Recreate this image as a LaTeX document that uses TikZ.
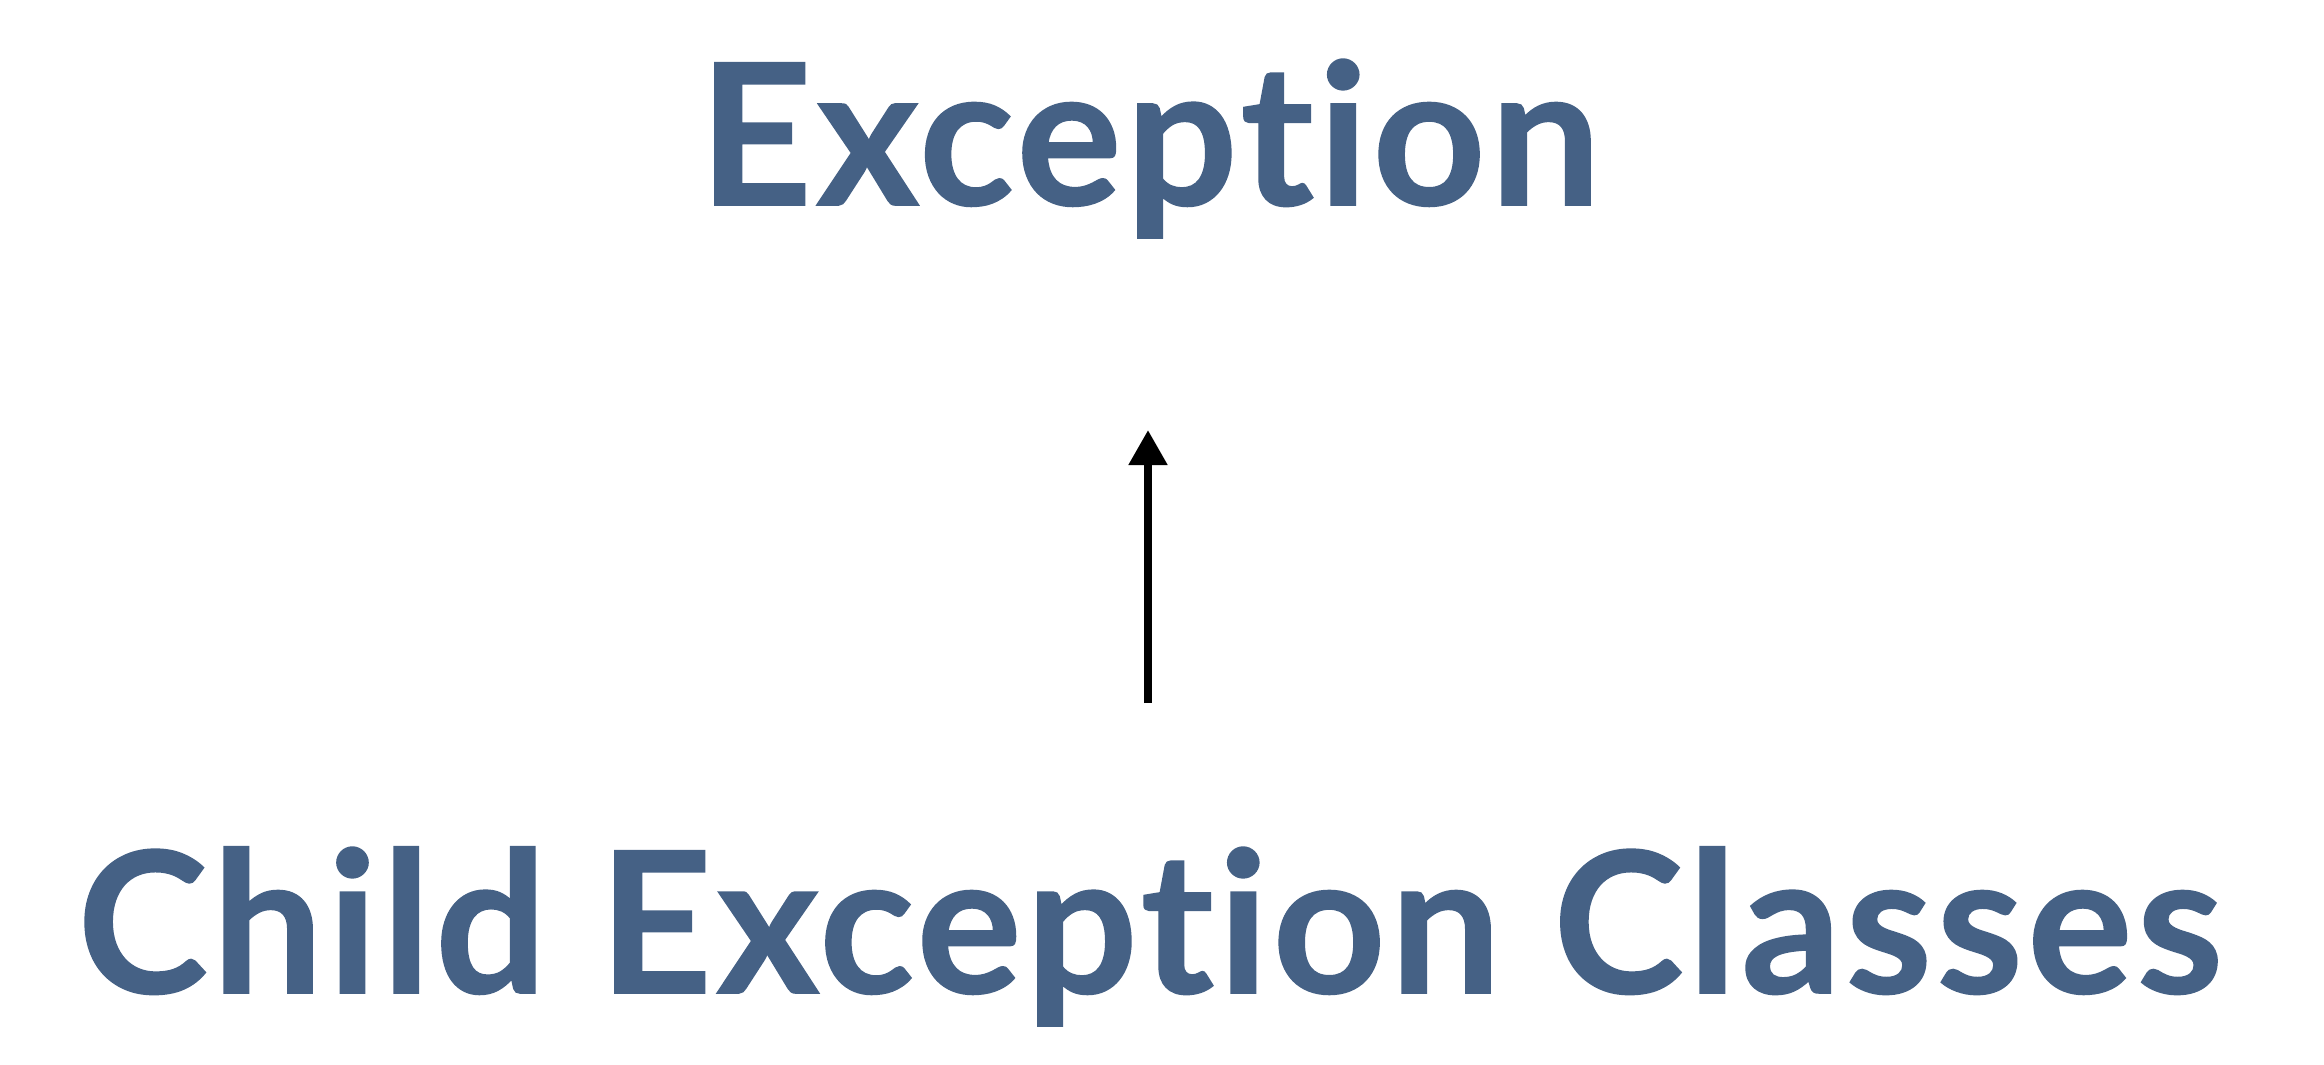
\documentclass[tikz,border=0pt]{standalone}
\usepackage{fontspec}
\setmainfont{Lato}[Ligatures={NoCommon,NoContextual},BoldFeatures={FakeBold=0.8,LetterSpace=2.2}]
\usepackage{tikz}
\usetikzlibrary{arrows.meta,positioning}
\definecolor{slate}{RGB}{69,97,133}
\begin{document}
\begin{tikzpicture}[font=\bfseries,
  title/.style={text=slate,inner sep=0pt,anchor=base,font=\fontsize{56}{60}\selectfont\bfseries},
  inherit/.style={line width=2.3pt,-{Triangle[width=3.7mm,length=3.5mm]}}]
\useasboundingbox(0,0)rectangle(23.24,10.64); %page
%classes
\node[title] (exc) at (11.5,8.59){Exception};
\node[title] (child) at (11.5,0.71){Child Exception Classes};
%arrow
\coordinate (tail) at (11.48,3.61);
\coordinate (tip) at (11.48,6.34);
\draw[inherit](tail)--(tip);
\end{tikzpicture}
\end{document}
